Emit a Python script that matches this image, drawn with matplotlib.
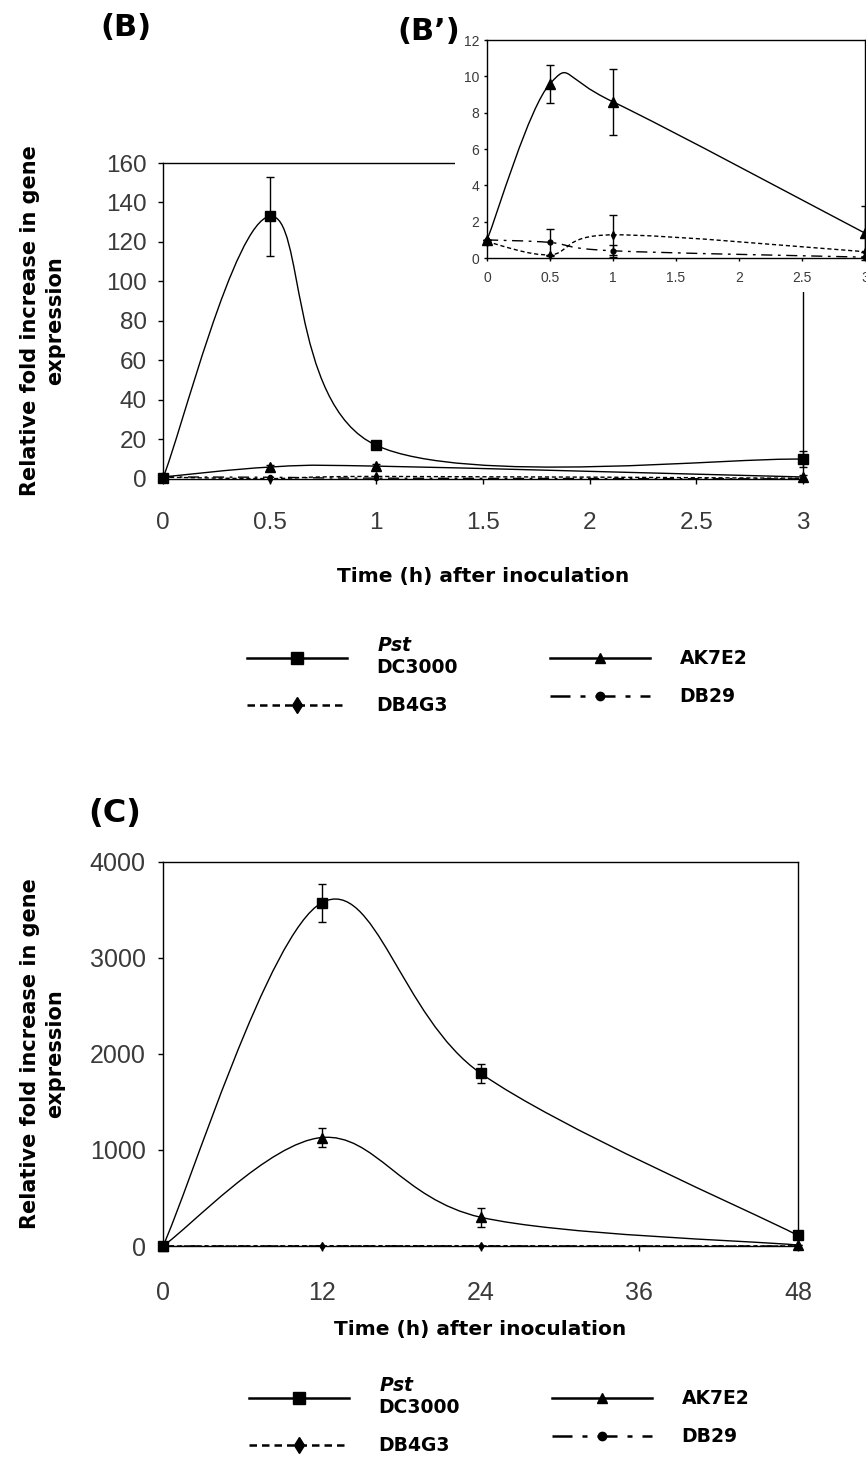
import numpy as np
import matplotlib.pyplot as plt
from matplotlib.path import Path
from matplotlib.patches import PathPatch, Rectangle
from matplotlib.lines import Line2D

plt.rcParams["font.family"] = ["DejaVu Sans"]
plt.rcParams["mathtext.fontset"] = "custom"
plt.rcParams["mathtext.bfit"] = "DejaVu Sans:italic:bold"
plt.rcParams["mathtext.rm"] = "DejaVu Sans:bold"

TICK_FONT = ["Liberation Sans", "DejaVu Sans"]

# panel B: 0-3 h after inoculation
hours_b = [0, 0.5, 1, 3]
pst_b = [0.5, 133, 17, 10]
pst_b_err = [0, 20, 2, 4]
ak7e2_b = [1, 6, 6.5, 1]
ak7e2_b_err = [0, 1, 1, 1]
db4g3_b = [0.9, 0.18, 1.28, 0.35]
db29_b = [1.0, 0.86, 0.4, 0.05]

# panel B' (inset, same time points)
ak7e2_inset = [1.0, 9.6, 8.6, 1.37]
ak7e2_inset_err = [0, 1.05, 1.8, 1.47]
db4g3_inset = [0.9, 0.18, 1.28, 0.35]
db4g3_inset_err = [0, 0, 1.1, 0]
db29_inset = [1.0, 0.86, 0.4, 0.05]
db29_inset_err = [0, 0.75, 0.33, 0]

# panel C: 0-48 h after inoculation
hours_c = [0, 12, 24, 48]
pst_c = [0, 3575, 1800, 110]
pst_c_err = [0, 200, 100, 0]
ak7e2_c = [0, 1130, 300, 10]
ak7e2_c_err = [0, 100, 100, 0]
db4g3_c = [0, 2, 2, 0]
db29_c = [0, 1, 1, 0]

ticks_b_x = [0, 0.5, 1, 1.5, 2, 2.5, 3]
ticks_b_y = [0, 20, 40, 60, 80, 100, 120, 140, 160]
ticks_inset_y = [0, 2, 4, 6, 8, 10, 12]
ticks_c_x = [0, 12, 24, 36, 48]
ticks_c_y = [0, 1000, 2000, 3000, 4000]

YLABEL = "Relative fold increase in gene\nexpression"
XLABEL = "Time (h) after inoculation"

DOTTED = (0, (3, 2))
DASHDOT = (0, (8, 4, 2, 4))


def smooth_path(x, y):
    # excel style smoothed line, cubic bezier through every point
    pts = np.column_stack([x, y]).astype(float)
    n = len(pts)
    verts = [pts[0]]
    codes = [Path.MOVETO]
    for i in range(n - 1):
        prev = pts[i - 1] if i > 0 else pts[i]
        nxt = pts[i + 2] if i + 2 < n else pts[i + 1]
        c1 = pts[i] + (pts[i + 1] - prev) / 6
        c2 = pts[i + 1] - (nxt - pts[i]) / 6
        verts += [c1, c2, pts[i + 1]]
        codes += [Path.CURVE4] * 3
    return Path(verts, codes)


def draw_series(ax, x, y, err, marker, ls, ms, capsize=3):
    ax.add_patch(
        PathPatch(
            smooth_path(x, y),
            fill=False,
            lw=1,
            ls=ls,
            ec="black",
            zorder=2,
        )
    )
    eb = ax.errorbar(
        x,
        y,
        yerr=err,
        fmt=marker,
        color="black",
        ms=ms,
        capsize=capsize,
        elinewidth=1,
        capthick=1,
        zorder=3,
    )
    for art in eb.get_children():
        art.set_clip_on(False)


def style_axes(ax, xticks, yticks, size, xpad, ypad, ticklen):
    ax.set_xticks(xticks)
    ax.set_yticks(yticks)
    ax.set_xticklabels([f"{t:g}" for t in xticks])
    ax.set_yticklabels([f"{t:g}" for t in yticks])
    ax.tick_params(axis="both", direction="out", length=ticklen, width=1,
                   labelsize=size)
    ax.tick_params(axis="x", pad=xpad)
    ax.tick_params(axis="y", pad=ypad)
    for lab in ax.get_xticklabels() + ax.get_yticklabels():
        lab.set_fontfamily(TICK_FONT)
        lab.set_color("#3a3a3a")
    for sp in ax.spines.values():
        sp.set_linewidth(1)


def add_axis_titles(ax, ylab_x, xlab_y):
    ax.set_ylabel(YLABEL, fontsize=15, fontweight="bold", linespacing=1.3)
    ax.yaxis.set_label_coords(ylab_x, 0.5)
    ax.set_xlabel(XLABEL, fontsize=14.5, fontweight="bold", va="top")
    ax.xaxis.set_label_coords(0.5, xlab_y)


def add_legend(fig, anchor):
    handles = [
        Line2D([], [], color="black", lw=1.8, marker="s", ms=8),
        Line2D([], [], color="black", lw=1.8, ls=DOTTED, marker="d", ms=8),
        Line2D([], [], color="black", lw=1.8, marker="^", ms=7),
        Line2D([], [], color="black", lw=1.8, ls=DASHDOT, marker="o", ms=6),
    ]
    labels = ["$\\mathbfit{Pst}$\nDC3000", "DB4G3", "AK7E2", "DB29"]
    fig.legend(
        handles,
        labels,
        ncol=2,
        loc="upper left",
        bbox_to_anchor=anchor,
        frameon=False,
        numpoints=1,
        handlelength=5.3,
        handletextpad=1.6,
        columnspacing=4.9,
        labelspacing=1.0,
        borderpad=0,
        prop={"weight": "bold", "size": 13.5},
    )


fig = plt.figure(figsize=(8.66, 14.58), dpi=100)

# ---- panel B ----
ax_b = fig.add_axes([0.1882, 0.6715, 0.739, 0.2167])
draw_series(ax_b, hours_b, pst_b, pst_b_err, "s", "-", 7)
draw_series(ax_b, hours_b, ak7e2_b, ak7e2_b_err, "^", "-", 7)
draw_series(ax_b, hours_b, db4g3_b, None, "d", DOTTED, 4)
draw_series(ax_b, hours_b, db29_b, None, "o", DASHDOT, 3)
ax_b.set_xlim(0, 3)
ax_b.set_ylim(0, 160)
style_axes(ax_b, ticks_b_x, ticks_b_y, 17.5, 20, 8, 3.5)
add_axis_titles(ax_b, -0.153, -0.278)

# white area behind the inset and its tick labels
fig.add_artist(Rectangle((0.525, 0.80), 0.475, 0.18,
                         transform=fig.transFigure, fc="white", ec="none",
                         zorder=1))

# ---- panel B' inset ----
ax_i = fig.add_axes([0.5624, 0.8230, 0.4365, 0.1495])
ax_i.set_zorder(2)
draw_series(ax_i, hours_b, ak7e2_inset, ak7e2_inset_err, "^", "-", 7)
draw_series(ax_i, hours_b, db4g3_inset, db4g3_inset_err, "d", DOTTED, 4)
draw_series(ax_i, hours_b, db29_inset, db29_inset_err, "o", DASHDOT, 3.5)
ax_i.set_xlim(0, 3)
ax_i.set_ylim(0, 12)
style_axes(ax_i, ticks_b_x, ticks_inset_y, 10, 7, 3, 2.5)

fig.text(100 / 866, 1 - 13 / 1458, "(B)", fontsize=22, fontweight="bold",
         va="top", ha="left")
fig.text(397 / 866, 1 - 17 / 1458, "(B\u2019)", fontsize=22, fontweight="bold",
         va="top", ha="left", zorder=3)
add_legend(fig, (238 / 866, 1 - 627 / 1458))

# ---- panel C ----
ax_c = fig.add_axes([0.1882, 0.1454, 0.7333, 0.2634])
draw_series(ax_c, hours_c, pst_c, pst_c_err, "s", "-", 7)
draw_series(ax_c, hours_c, ak7e2_c, ak7e2_c_err, "^", "-", 7)
draw_series(ax_c, hours_c, db4g3_c, None, "d", DOTTED, 4)
draw_series(ax_c, hours_c, db29_c, None, "o", DASHDOT, 3)
ax_c.set_xlim(0, 48)
ax_c.set_ylim(0, 4000)
style_axes(ax_c, ticks_c_x, ticks_c_y, 18, 22, 9, 3.5)
add_axis_titles(ax_c, -0.154, -0.193)

fig.text(88 / 866, 1 - 798 / 1458, "(C)", fontsize=23, fontweight="bold",
         va="top", ha="left")
add_legend(fig, (240 / 866, 1 - 1367 / 1458))

fig.savefig("out.png", dpi=100, facecolor="white")
